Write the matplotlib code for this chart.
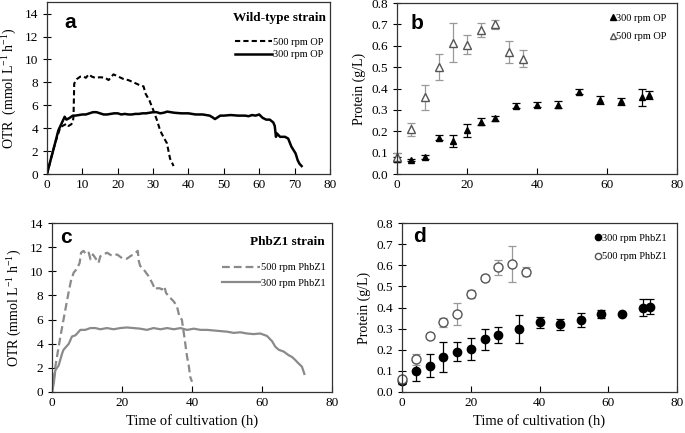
import matplotlib
matplotlib.use("Agg")
import matplotlib.pyplot as plt
from matplotlib.lines import Line2D

plt.rcParams['font.family'] = ['Liberation Serif', 'DejaVu Serif']
plt.rcParams['mathtext.fontset'] = 'custom'
plt.rcParams['mathtext.rm'] = 'Liberation Serif'
plt.rcParams['mathtext.it'] = 'Liberation Serif:italic'

# ---------------- Panel a data (Wild-type OTR) ----------------
t_a300 = [0, 0.5, 1, 2.3, 3.2, 4.1, 5.0, 5.5, 6.4, 7.3, 8, 9, 10, 11, 12, 13, 14, 15, 16, 17,
          18, 19, 20, 21, 22, 23, 24, 25, 26, 27, 28, 29, 30, 31, 32, 33, 34, 35, 36, 38, 40,
          42, 44, 46, 46.8, 47.5, 49, 50, 52, 54, 56, 57, 58, 59, 60, 61, 62, 63, 64, 64.4,
          64.75, 65.0, 65.9, 67.3, 68.2, 69.1, 69.5, 70.3, 70.9, 71.4, 72.0]
y_a300 = [0, 0.6, 1.2, 2.7, 3.8, 4.4, 5.0, 4.75, 4.9, 5.1, 5.1, 5.15, 5.2, 5.2, 5.3, 5.4, 5.4, 5.3, 5.2, 5.2,
          5.25, 5.3, 5.3, 5.2, 5.25, 5.2, 5.2, 5.25, 5.25, 5.3, 5.3, 5.35, 5.4, 5.4, 5.3, 5.35, 5.45, 5.4, 5.35, 5.3, 5.3,
          5.2, 5.2, 5.1, 4.95, 4.8, 5.1, 5.1, 5.15, 5.1, 5.1, 5.05, 5.15, 5.1, 5.2, 4.9, 4.75, 4.75, 4.5, 4.2,
          3.25, 3.55, 3.25, 3.25, 3.1, 2.4, 2.2, 1.8, 1.2, 0.9, 0.7]

t_a500 = [0, 0.5, 1, 2.3, 3.8, 5.0, 5.6, 6.1, 6.9, 7.3, 7.5, 7.7, 8.5, 9.4, 10.4, 11.0, 11.8, 12.7, 13.6,
          15.1, 16.5, 17.4, 18.8, 20.2, 21.6, 23.0, 24.5, 25.9, 27.3, 27.9, 29.0, 30.1, 31.1, 32.0,
          32.9, 33.9, 34.4, 34.8, 35.8]
y_a500 = [0, 0.6, 1.2, 2.7, 4.1, 4.3, 4.4, 4.2, 4.35, 4.55, 5.0, 7.9, 8.3, 8.5, 8.5, 8.4, 8.7, 8.5, 8.4,
          8.45, 8.4, 8.2, 8.7, 8.5, 8.3, 8.2, 8.0, 7.8, 7.65, 7.0, 6.4, 5.55, 4.7, 3.8,
          3.25, 2.7, 1.95, 1.35, 0.7]

# ---------------- Panel b data (Wild-type protein) ----------------
t_b300 = [0, 4, 8, 12, 16, 20, 24, 28, 34, 40, 46, 52, 58, 64, 70, 72]
p_b300 = [0.07, 0.065, 0.08, 0.17, 0.155, 0.205, 0.245, 0.26, 0.32, 0.325, 0.325, 0.385, 0.345, 0.34, 0.36, 0.37]
e_b300 = [0.012, 0.006, 0.008, 0.012, 0.03, 0.03, 0.015, 0.012, 0.012, 0.012, 0.015, 0.012, 0.018, 0.015, 0.04, 0.018]
t_b500 = [0, 4, 8, 12, 16, 20, 24, 28, 32, 36]
p_b500 = [0.08, 0.21, 0.36, 0.50, 0.615, 0.605, 0.675, 0.70, 0.57, 0.54]
e_b500 = [0.02, 0.03, 0.058, 0.062, 0.09, 0.045, 0.032, 0.02, 0.052, 0.04]

# ---------------- Panel c data (PhbZ1 OTR) ----------------
t_c500 = [0, 0.95, 2.4, 3.8, 4.8, 5.4, 6.2, 7.1, 7.9, 8.3, 9.0, 9.8, 10.5, 11.0, 11.7, 12.4, 13.3, 13.8,
          14.8, 15.7, 17.1, 18.6, 20.0, 21.4, 22.6, 23.3, 24.5, 24.8, 25.2, 26.2, 27.6, 28.6, 29.5, 30.0,
          30.8, 31.4, 32.1, 32.6, 33.8, 34.8, 35.7, 36.4, 37.1, 37.8, 38.6, 39.0, 39.5, 40.0]
y_c500 = [0, 2.1, 4.6, 6.8, 8.35, 9.2, 9.9, 10.2, 10.7, 11.55, 11.7, 11.4, 11.55, 11.0, 11.4, 11.1, 10.7, 11.25,
          11.4, 11.55, 11.3, 11.4, 11.1, 11.05, 11.3, 11.4, 11.7, 10.85, 10.45, 10.15, 9.6, 9.05, 8.5, 8.6,
          8.6, 8.5, 8.75, 8.2, 7.8, 7.5, 7.1, 6.25, 6.0, 4.6, 2.9, 2.35, 1.25, 0.85]

t_c300 = [0, 0.5, 0.95, 1.9, 2.9, 3.3, 4.8, 5.7, 6.7, 8.1, 9.5, 11.0, 12.4, 13.8, 15.7, 17.6, 19.5, 21.4,
          23.3, 25.2, 27.1, 29.0, 31.0, 32.9, 34.8, 36.7, 38.6, 40.5, 42.4, 44.3, 46.2, 48.1, 50.0, 51.9,
          53.8, 55.7, 57.6, 59.5, 61.4, 62.9, 63.8, 64.8, 66.2, 67.6, 68.6, 69.5, 70.5, 71.4, 72.1]
y_c300 = [0, 0.7, 1.8, 2.2, 3.2, 3.5, 4.0, 4.6, 4.7, 5.15, 5.15, 5.3, 5.3, 5.2, 5.3, 5.2, 5.3, 5.35,
          5.3, 5.25, 5.15, 5.3, 5.2, 5.3, 5.2, 5.3, 5.15, 5.25, 5.15, 5.15, 5.1, 5.05, 5.0, 4.9,
          4.95, 4.85, 4.8, 4.85, 4.65, 4.2, 3.75, 3.5, 3.35, 3.05, 2.9, 2.65, 2.35, 2.1, 1.5]

# ---------------- Panel d data (PhbZ1 protein) ----------------
t_d300 = [0, 4, 8, 12, 16, 20, 24, 28, 34, 40, 46, 52, 58, 64, 70, 72]
p_d300 = [0.05, 0.10, 0.125, 0.165, 0.19, 0.205, 0.25, 0.27, 0.30, 0.33, 0.32, 0.34, 0.37, 0.37, 0.40, 0.405]
e_d300 = [0.012, 0.05, 0.055, 0.07, 0.045, 0.052, 0.05, 0.04, 0.066, 0.025, 0.025, 0.032, 0.02, 0.005, 0.04, 0.036]
t_d500 = [0, 4, 8, 12, 16, 20, 24, 28, 32, 36]
p_d500 = [0.06, 0.155, 0.265, 0.33, 0.37, 0.465, 0.54, 0.59, 0.605, 0.57]
e_d500 = [0.01, 0.025, 0.01, 0.02, 0.052, 0.02, 0.016, 0.035, 0.085, 0.02]

GRAY = '#8a8a8a'
EGRAY = '#999999'

fig = plt.figure(figsize=(6.85, 4.33), dpi=100)
ax_a = fig.add_axes([0.0686, 0.598, 0.413, 0.397])
ax_b = fig.add_axes([0.5796, 0.598, 0.4088, 0.395])
ax_c = fig.add_axes([0.0759, 0.0947, 0.4088, 0.390])
ax_d = fig.add_axes([0.5869, 0.0947, 0.4015, 0.390])

for ax in (ax_a, ax_b, ax_c, ax_d):
    ax.set_xlim(0, 80)
    ax.tick_params(axis='y', direction='inout', length=6, labelsize=9.5, width=0.8)
    ax.tick_params(axis='x', direction='in', length=4, labelsize=9.5, width=0.8)
    for sp in ax.spines.values():
        sp.set_linewidth(0.9)
        sp.set_color('#333333')


def noclip(container):
    for art in container.get_children():
        art.set_clip_on(False)


# Panel a
ax_a.plot(t_a500, y_a500, color='black', ls=(0, (2.5, 1.5)), lw=1.5, label='500 rpm OP')
ax_a.plot(t_a300, y_a300, color='black', ls='-', lw=1.8, label='300 rpm OP')
ax_a.set_ylim(0, 15)
ax_a.set_yticks(range(0, 15, 2))
ax_a.set_xticks(range(0, 81, 10))
ax_a.set_ylabel(r'OTR  (mmol L$^{-1}$ h$^{-1}$)', fontsize=10)
ax_a.text(0.06, 0.88, 'a', transform=ax_a.transAxes, fontsize=15, fontweight='bold',
          family='Liberation Sans', va='center', ha='left')
ax_a.text(0.985, 0.905, 'Wild-type strain', transform=ax_a.transAxes, fontsize=9.5,
          fontweight='bold', ha='right', va='center')
ax_a.legend(loc='upper right', bbox_to_anchor=(1.0, 0.83), frameon=False, fontsize=7.5,
            handlelength=3.6, handletextpad=0.1, labelspacing=0.3, borderaxespad=0.2)

# Panel b
c1 = ax_b.errorbar(t_b300, p_b300, yerr=e_b300, fmt='^', color='black', ms=5, capsize=3,
                   elinewidth=0.9, capthick=0.9, label='300 rpm OP')
c2 = ax_b.errorbar(t_b500, p_b500, yerr=e_b500, fmt='^', mfc='white', mec='#555555', ms=6,
                   ecolor=EGRAY, capsize=3, elinewidth=0.9, capthick=0.9, label='500 rpm OP')
noclip(c1); noclip(c2)
ax_b.set_ylim(0, 0.8)
ax_b.set_yticks([i / 10 for i in range(9)])
ax_b.set_yticklabels([f'{i / 10:.1f}' for i in range(9)])
ax_b.set_xticks(range(0, 81, 20))
ax_b.set_ylabel('Protein (g/L)', fontsize=10)
ax_b.text(0.05, 0.88, 'b', transform=ax_b.transAxes, fontsize=15, fontweight='bold',
          family='Liberation Sans', va='center', ha='left')
hb = [Line2D([], [], marker='^', ls='none', color='black', ms=4),
      Line2D([], [], marker='^', ls='none', mfc='white', mec='#555555', ms=4.5)]
ax_b.legend(hb, ['300 rpm OP', '500 rpm OP'], loc='upper right', frameon=False, fontsize=7.5,
            handlelength=0.5, handletextpad=0.1, labelspacing=0.9, borderaxespad=0.6)

# Panel c
ax_c.plot(t_c500, y_c500, color=GRAY, ls=(0, (3.5, 1.8)), lw=1.6, label='500 rpm PhbZ1')
ax_c.plot(t_c300, y_c300, color=GRAY, ls='-', lw=1.6, label='300 rpm PhbZ1')
ax_c.set_ylim(0, 14)
ax_c.set_yticks(range(0, 15, 2))
ax_c.set_xticks(range(0, 81, 20))
ax_c.set_ylabel(r'OTR (mmol L$^{-1}$ h$^{-1}$)', fontsize=10)
ax_c.set_xlabel('Time of cultivation (h)', fontsize=10.5)
ax_c.text(0.03, 0.915, 'c', transform=ax_c.transAxes, fontsize=15, fontweight='bold',
          family='Liberation Sans', va='center', ha='left')
ax_c.text(0.975, 0.888, 'PhbZ1 strain', transform=ax_c.transAxes, fontsize=9.5,
          fontweight='bold', ha='right', va='center')
ax_c.legend(loc='upper right', bbox_to_anchor=(1.0, 0.80), frameon=False, fontsize=7.5,
            handlelength=3.6, handletextpad=0.1, labelspacing=0.6, borderaxespad=0.2)

# Panel d
c3 = ax_d.errorbar(t_d300, p_d300, yerr=e_d300, fmt='o', color='black', ms=6, capsize=3,
                   elinewidth=0.9, capthick=0.9, label='300 rpm PhbZ1')
c4 = ax_d.errorbar(t_d500, p_d500, yerr=e_d500, fmt='o', mfc='white', mec='#555555', ms=6.5,
                   ecolor=EGRAY, capsize=3, elinewidth=0.9, capthick=0.9, label='500 rpm PhbZ1')
noclip(c3); noclip(c4)
ax_d.set_ylim(0, 0.8)
ax_d.set_yticks([i / 10 for i in range(9)])
ax_d.set_yticklabels([f'{i / 10:.1f}' for i in range(9)])
ax_d.set_xticks(range(0, 81, 20))
ax_d.set_ylabel('Protein (g/L)', fontsize=10)
ax_d.set_xlabel('Time of cultivation (h)', fontsize=10.5)
ax_d.text(0.04, 0.92, 'd', transform=ax_d.transAxes, fontsize=15, fontweight='bold',
          family='Liberation Sans', va='center', ha='left')
hd = [Line2D([], [], marker='o', ls='none', color='black', ms=4.5),
      Line2D([], [], marker='o', ls='none', mfc='white', mec='#555555', ms=4.5)]
ax_d.legend(hd, ['300 rpm PhbZ1', '500 rpm PhbZ1'], loc='upper right', frameon=False, fontsize=7.5,
            handlelength=0.5, handletextpad=0.1, labelspacing=0.9, borderaxespad=0.6)

fig.savefig('out.png', dpi=100)
